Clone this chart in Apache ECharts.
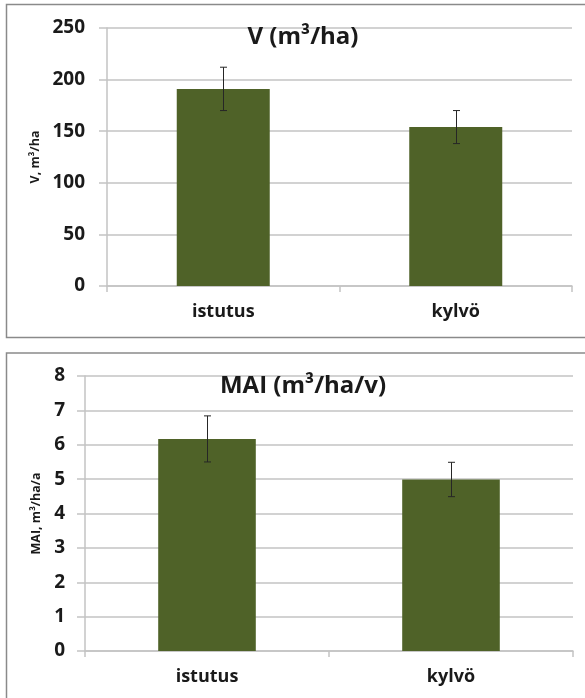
<!DOCTYPE html>
<html>
<head>
<meta charset="utf-8">
<script src="https://cdn.jsdelivr.net/npm/echarts@6/dist/echarts.min.js"></script>
<style>
html,body{margin:0;padding:0;background:#fff;}
#chart{width:585px;height:698px;}
</style>
</head>
<body>
<div id="chart"></div>
<script>
const categories = ['istutus', 'kylvö'];
const vValues = [191, 154];
const vErrors = [21, 16];
const maiValues = [6.17, 4.99];
const maiErrors = [0.67, 0.5];
const vTitle = 'V (m³/ha)';
const maiTitle = 'MAI (m³/ha/v)';
const vAxisName = 'V, m³/ha';
const maiAxisName = 'MAI, m³/ha/a';

const FONT = '"Open Sans", "DejaVu Sans", sans-serif';
const BAR = '#4F6228';
const GRID = '#C3C3C3';
const TXT = '#1a1a1a';

function errSeries(xi, yi, vals, errs) {
  return {
    type: 'custom', xAxisIndex: xi, yAxisIndex: yi, z: 5,
    data: vals.map((v, i) => [i, v - errs[i], v + errs[i]]),
    renderItem: function (params, api) {
      const lo = api.coord([api.value(0), api.value(1)]);
      const hi = api.coord([api.value(0), api.value(2)]);
      const x = Math.round(lo[0]) + 0.5;
      const c = 3.5;
      const st = { stroke: '#262626', lineWidth: 1 };
      return { type: 'group', children: [
        { type: 'line', shape: { x1: x, y1: lo[1], x2: x, y2: hi[1] }, style: st },
        { type: 'line', shape: { x1: x - c, y1: lo[1], x2: x + c, y2: lo[1] }, style: st },
        { type: 'line', shape: { x1: x - c, y1: hi[1], x2: x + c, y2: hi[1] }, style: st }
      ]};
    }
  };
}

function xAx(gi) {
  return {
    type: 'category', gridIndex: gi, data: categories,
    axisLine: { lineStyle: { color: GRID, width: 1.5 } },
    axisTick: { show: true, length: 6, lineStyle: { color: GRID, width: 1.5 } },
    axisLabel: { color: TXT, fontFamily: FONT, fontWeight: 'bold', fontSize: 18, margin: 17 }
  };
}
function yAx(gi, max, interval, name, margin) {
  return {
    type: 'value', gridIndex: gi, min: 0, max: max, interval: interval,
    name: name, nameLocation: 'middle', nameGap: 0,
    nameTextStyle: { color: TXT, fontFamily: FONT, fontWeight: 'bold', fontSize: 12.5 },
    axisLine: { show: true, lineStyle: { color: GRID, width: 1.5 } },
    axisTick: { show: true, length: 8, lineStyle: { color: GRID, width: 1.5 } },
    splitLine: { lineStyle: { color: GRID, width: 1.5 } },
    axisLabel: { color: TXT, fontFamily: FONT, fontWeight: 'bold', fontSize: 19, margin: margin }
  };
}

const chart = echarts.init(document.getElementById('chart'), null, { renderer: 'canvas' });
const y1 = yAx(0, 250, 50, vAxisName, 22);
y1.nameGap = 63;
const y2 = yAx(1, 8, 1, maiAxisName, 20);
y2.nameGap = 39;

chart.setOption({
  animation: false,
  backgroundColor: '#fff',
  graphic: [
    { type: 'rect', shape: { x: 6.5, y: 4.5, width: 620, height: 333 }, style: { fill: 'none', stroke: '#8a8a8a', lineWidth: 1.5 }, z: -1 },
    { type: 'rect', shape: { x: 6.5, y: 353, width: 620, height: 400 }, style: { fill: 'none', stroke: '#8a8a8a', lineWidth: 1.5 }, z: -1 }
  ],
  title: [
    { text: vTitle, left: 298, top: 20, textAlign: 'center', textStyle: { fontFamily: FONT, fontWeight: 'bold', fontSize: 24, color: TXT } },
    { text: maiTitle, left: 298, top: 369, textAlign: 'center', textStyle: { fontFamily: FONT, fontWeight: 'bold', fontSize: 24, color: TXT } }
  ],
  grid: [
    { left: 107, right: 13, top: 28, bottom: 412 },
    { left: 85, right: 12, top: 376, bottom: 47 }
  ],
  xAxis: [xAx(0), xAx(1)],
  yAxis: [y1, y2],
  series: [
    { type: 'bar', xAxisIndex: 0, yAxisIndex: 0, data: vValues, barWidth: '40%', itemStyle: { color: BAR } },
    errSeries(0, 0, vValues, vErrors),
    { type: 'bar', xAxisIndex: 1, yAxisIndex: 1, data: maiValues, barWidth: '40%', itemStyle: { color: BAR } },
    errSeries(1, 1, maiValues, maiErrors)
  ]
});
</script>
</body>
</html>
